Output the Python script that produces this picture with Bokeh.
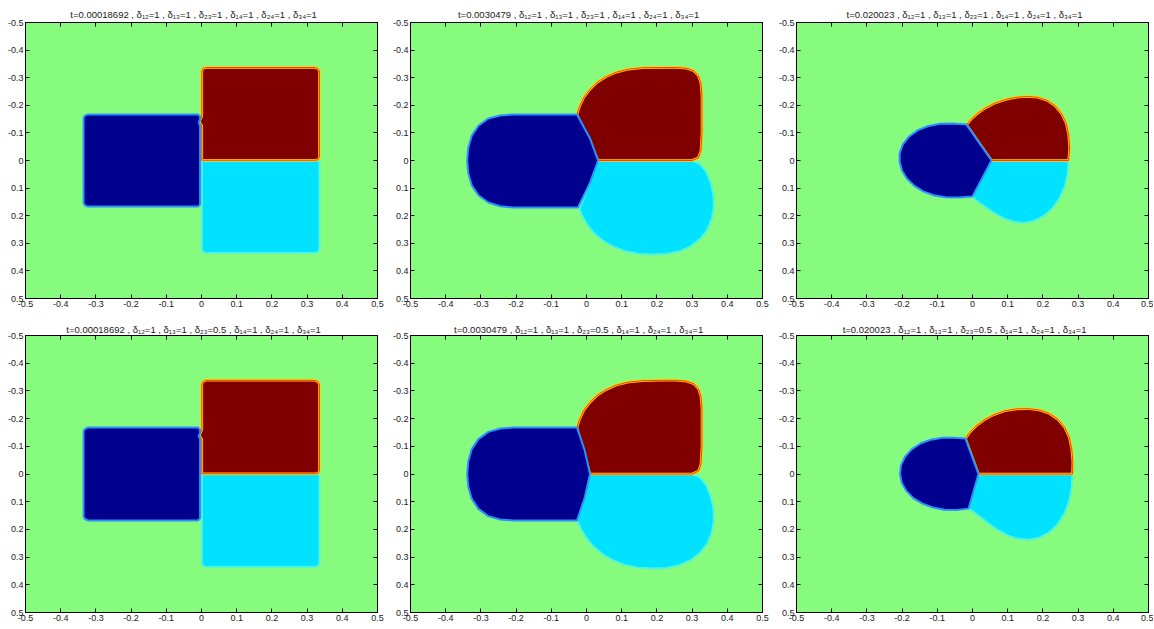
from bokeh.plotting import figure
from bokeh.models import Range1d, FixedTicker, LinearAxis
from bokeh.layouts import column, row
from bokeh.embed import file_html
from bokeh.resources import INLINE

# ---------------- data ----------------
TICKS = [-0.5, -0.4, -0.3, -0.2, -0.1, 0.0, 0.1, 0.2, 0.3, 0.4, 0.5]
TICK_LABELS = ["-0.5", "-0.4", "-0.3", "-0.2", "-0.1", "0", "0.1", "0.2", "0.3", "0.4", "0.5"]

TITLES = [
    "t=0.00018692 ,  δ₁₂=1 ,  δ₁₃=1 ,  δ₂₃=1 ,  δ₁₄=1 ,  δ₂₄=1 ,  δ₃₄=1",
    "t=0.0030479 ,  δ₁₂=1 ,  δ₁₃=1 ,  δ₂₃=1 ,  δ₁₄=1 ,  δ₂₄=1 ,  δ₃₄=1",
    "t=0.020023 ,  δ₁₂=1 ,  δ₁₃=1 ,  δ₂₃=1 ,  δ₁₄=1 ,  δ₂₄=1 ,  δ₃₄=1",
    "t=0.00018692 ,  δ₁₂=1 ,  δ₁₃=1 ,  δ₂₃=0.5 ,  δ₁₄=1 ,  δ₂₄=1 ,  δ₃₄=1",
    "t=0.0030479 ,  δ₁₂=1 ,  δ₁₃=1 ,  δ₂₃=0.5 ,  δ₁₄=1 ,  δ₂₄=1 ,  δ₃₄=1",
    "t=0.020023 ,  δ₁₂=1 ,  δ₁₃=1 ,  δ₂₃=0.5 ,  δ₁₄=1 ,  δ₂₄=1 ,  δ₃₄=1",
]

# Panel 1 (t=0.00018692, d23=1)
P1_BLUE_X = [-0.322, -0.010, -0.004, -0.004, -0.008, -0.004, -0.004, -0.010, -0.322, -0.331, -0.335, -0.335, -0.331]
P1_BLUE_Y = [-0.167, -0.167, -0.160, -0.148, -0.138, -0.125, 0.160, 0.167, 0.167, 0.163, 0.155, -0.155, -0.163]
P1_RED_X = [0.012, 0.323, 0.331, 0.335, 0.335, 0.331, 0.323, 0.001, 0.001, -0.006, 0.001, 0.001, 0.004]
P1_RED_Y = [-0.337, -0.337, -0.333, -0.325, -0.010, -0.003, -0.001, -0.001, -0.125, -0.140, -0.160, -0.325, -0.333]
P1_CYAN_X = [0.001, 0.335, 0.335, 0.331, 0.323, 0.012, 0.004, 0.001]
P1_CYAN_Y = [0.001, 0.001, 0.323, 0.331, 0.335, 0.335, 0.331, 0.323]

# Panel 2 (t=0.0030479, d23=1)
P2_BLUE_X = [-0.209, -0.027, 0.010, 0.033, 0.010, -0.024, -0.209, -0.245, -0.279, -0.307, -0.326, -0.336, -0.339,
             -0.336, -0.326, -0.307, -0.279, -0.245]
P2_BLUE_Y = [-0.167, -0.167, -0.080, 0.000, 0.080, 0.170, 0.170, 0.166, 0.152, 0.126, 0.090, 0.045, 0.000,
             -0.045, -0.090, -0.126, -0.152, -0.163]
P2_RED_X = [0.033, -0.027, -0.020, -0.008, 0.010, 0.030, 0.055, 0.085, 0.120, 0.160, 0.208, 0.255, 0.285, 0.305,
            0.318, 0.325, 0.328, 0.328, 0.325, 0.318, 0.300]
P2_RED_Y = [0.000, -0.167, -0.195, -0.228, -0.258, -0.283, -0.303, -0.320, -0.331, -0.336, -0.337, -0.337, -0.334,
            -0.325, -0.307, -0.280, -0.236, -0.100, -0.035, -0.010, 0.000]
P2_CYAN_X = [0.033, 0.300, 0.322, 0.340, 0.353, 0.361, 0.362, 0.356, 0.343, 0.322, 0.295, 0.262, 0.225, 0.185,
             0.145, 0.108, 0.075, 0.045, 0.020, 0.002, -0.012, -0.020, 0.010]
P2_CYAN_Y = [0.000, 0.000, 0.012, 0.040, 0.080, 0.125, 0.170, 0.212, 0.252, 0.285, 0.312, 0.330, 0.339, 0.341,
             0.338, 0.328, 0.311, 0.289, 0.262, 0.232, 0.202, 0.175, 0.080]

# Panel 3 (t=0.020023, d23=1)
P3_BLUE_X = [-0.017, 0.054, 0.000, -0.040, -0.077, -0.110, -0.140, -0.165, -0.186, -0.200, -0.207, -0.207, -0.198,
             -0.180, -0.155, -0.125, -0.092, -0.058]
P3_BLUE_Y = [-0.130, 0.000, 0.130, 0.134, 0.133, 0.126, 0.112, 0.092, 0.066, 0.037, 0.005, -0.027, -0.058,
             -0.087, -0.110, -0.125, -0.133, -0.134]
P3_RED_X = [0.054, -0.017, -0.005, 0.012, 0.035, 0.062, 0.094, 0.125, 0.155, 0.185, 0.212, 0.235, 0.253, 0.266,
            0.273, 0.276, 0.273]
P3_RED_Y = [0.000, -0.130, -0.148, -0.168, -0.189, -0.207, -0.221, -0.229, -0.232, -0.229, -0.218, -0.198, -0.170,
            -0.135, -0.095, -0.045, 0.000]
P3_CYAN_X = [0.054, 0.273, 0.271, 0.263, 0.248, 0.228, 0.203, 0.175, 0.148, 0.120, 0.093, 0.068, 0.045, 0.024,
             0.008, 0.000]
P3_CYAN_Y = [0.000, 0.000, 0.045, 0.092, 0.135, 0.172, 0.201, 0.219, 0.226, 0.223, 0.212, 0.195, 0.176, 0.157,
             0.142, 0.130]

# Panel 4 (t=0.00018692, d23=0.5)
P4_BLUE_X = [-0.322, -0.010, -0.004, -0.004, -0.008, -0.004, -0.004, -0.010, -0.322, -0.331, -0.335, -0.335, -0.331]
P4_BLUE_Y = [-0.168, -0.168, -0.160, -0.148, -0.138, -0.125, 0.160, 0.168, 0.168, 0.163, 0.155, -0.155, -0.163]
P4_RED_X = [0.012, 0.323, 0.331, 0.335, 0.335, 0.331, 0.323, 0.001, 0.001, -0.006, 0.001, 0.001, 0.004]
P4_RED_Y = [-0.338, -0.338, -0.333, -0.325, -0.010, -0.003, -0.001, -0.001, -0.125, -0.140, -0.160, -0.325, -0.333]
P4_CYAN_X = [0.001, 0.335, 0.335, 0.331, 0.323, 0.012, 0.004, 0.001]
P4_CYAN_Y = [0.001, 0.001, 0.323, 0.331, 0.336, 0.336, 0.331, 0.323]

# Panel 5 (t=0.0030479, d23=0.5)
P5_BLUE_X = [-0.209, -0.027, -0.005, 0.010, -0.005, -0.027, -0.209, -0.245, -0.279, -0.307, -0.326, -0.336, -0.339,
             -0.336, -0.326, -0.307, -0.279, -0.245]
P5_BLUE_Y = [-0.168, -0.168, -0.085, 0.000, 0.085, 0.168, 0.168, 0.164, 0.152, 0.126, 0.090, 0.045, 0.000,
             -0.045, -0.090, -0.126, -0.152, -0.164]
P5_RED_X = [0.010, -0.027, -0.020, -0.008, 0.010, 0.030, 0.055, 0.085, 0.120, 0.160, 0.208, 0.255, 0.285, 0.305,
            0.318, 0.325, 0.328, 0.328, 0.325, 0.318, 0.300]
P5_RED_Y = [0.000, -0.168, -0.196, -0.229, -0.259, -0.284, -0.304, -0.321, -0.332, -0.337, -0.338, -0.338, -0.335,
            -0.326, -0.308, -0.281, -0.236, -0.100, -0.035, -0.010, 0.000]
P5_CYAN_X = [0.010, 0.300, 0.322, 0.340, 0.353, 0.361, 0.362, 0.356, 0.343, 0.322, 0.295, 0.262, 0.225, 0.185,
             0.145, 0.108, 0.075, 0.045, 0.020, 0.000, -0.015, -0.027, -0.005]
P5_CYAN_Y = [0.000, 0.000, 0.012, 0.040, 0.080, 0.125, 0.170, 0.212, 0.252, 0.285, 0.312, 0.330, 0.339, 0.341,
             0.338, 0.328, 0.311, 0.289, 0.262, 0.232, 0.200, 0.168, 0.085]

# Panel 6 (t=0.020023, d23=0.5)
P6_BLUE_X = [-0.020, 0.017, -0.011, -0.045, -0.080, -0.112, -0.142, -0.168, -0.188, -0.201, -0.206, -0.203,
             -0.192, -0.173, -0.148, -0.118, -0.085, -0.052]
P6_BLUE_Y = [-0.128, 0.000, 0.125, 0.130, 0.129, 0.121, 0.107, 0.087, 0.061, 0.032, 0.000, -0.032, -0.062,
             -0.089, -0.110, -0.124, -0.131, -0.131]
P6_RED_X = [0.017, -0.020, -0.008, 0.010, 0.033, 0.060, 0.092, 0.125, 0.158, 0.190, 0.219, 0.243, 0.262, 0.275,
            0.282, 0.285, 0.284]
P6_RED_Y = [0.000, -0.128, -0.150, -0.173, -0.195, -0.214, -0.228, -0.235, -0.236, -0.231, -0.218, -0.197, -0.168,
            -0.132, -0.090, -0.045, 0.000]
P6_CYAN_X = [0.017, 0.284, 0.282, 0.275, 0.262, 0.243, 0.218, 0.190, 0.160, 0.130, 0.100, 0.072, 0.047, 0.025,
             0.006, -0.011]
P6_CYAN_Y = [0.000, 0.000, 0.048, 0.096, 0.141, 0.180, 0.211, 0.230, 0.237, 0.234, 0.222, 0.203, 0.180, 0.158,
             0.140, 0.125]

PANELS = [
    (P1_BLUE_X, P1_BLUE_Y, P1_RED_X, P1_RED_Y, P1_CYAN_X, P1_CYAN_Y),
    (P2_BLUE_X, P2_BLUE_Y, P2_RED_X, P2_RED_Y, P2_CYAN_X, P2_CYAN_Y),
    (P3_BLUE_X, P3_BLUE_Y, P3_RED_X, P3_RED_Y, P3_CYAN_X, P3_CYAN_Y),
    (P4_BLUE_X, P4_BLUE_Y, P4_RED_X, P4_RED_Y, P4_CYAN_X, P4_CYAN_Y),
    (P5_BLUE_X, P5_BLUE_Y, P5_RED_X, P5_RED_Y, P5_CYAN_X, P5_CYAN_Y),
    (P6_BLUE_X, P6_BLUE_Y, P6_RED_X, P6_RED_Y, P6_CYAN_X, P6_CYAN_Y),
]

# ---------------- style ----------------
BG = "#86FB7E"
BLUE, BLUE_EDGE = "#00008F", "#2A90FF"
RED, RED_EDGE, RED_EDGE2 = "#800000", "#FFD200", "#FF3A00"
CYAN, CYAN_EDGE = "#00E2FF", "#52F5D8"
FONT = "Liberation Sans"
LABELS = dict(zip(TICKS, TICK_LABELS))

COL_W = [389, 386, 378]
COL_L = [25, 21, 21]
COL_R = [12, 13, 5]
ROW_H = [316, 311]
ROW_T = [22, 19]
ROW_B = [18, 15]
ROW_TITLE_STANDOFF = [6, 2]


def style_axis(ax, show_labels=True):
    ax.ticker = FixedTicker(ticks=TICKS)
    ax.major_label_overrides = LABELS
    ax.major_tick_in = 4
    ax.major_tick_out = 0
    ax.minor_tick_in = 0
    ax.minor_tick_out = 0
    ax.axis_line_color = "black"
    ax.major_tick_line_color = "black"
    ax.major_label_text_font = FONT
    ax.major_label_text_color = "#1a1a1a"
    if show_labels:
        ax.major_label_text_font_size = "9px"
        ax.major_label_standoff = 2
    else:
        ax.major_label_text_font_size = "0px"
        ax.major_label_text_alpha = 0
        ax.major_label_standoff = 0


def make_panel(i):
    r, c = divmod(i, 3)
    p = figure(width=COL_W[c], height=ROW_H[r],
               x_range=Range1d(-0.5, 0.5), y_range=Range1d(0.5, -0.5),
               output_backend="svg", toolbar_location=None,
               min_border_left=COL_L[c], min_border_right=COL_R[c],
               min_border_top=ROW_T[r], min_border_bottom=ROW_B[r],
               background_fill_color=BG, border_fill_color="white",
               outline_line_color="black")
    p.grid.visible = False
    style_axis(p.xaxis[0])
    style_axis(p.yaxis[0])
    top = LinearAxis()
    right = LinearAxis()
    style_axis(top, False)
    style_axis(right, False)
    p.add_layout(top, "above")
    p.add_layout(right, "right")
    p.title.text = TITLES[i]
    p.title.align = "center"
    p.title.text_font = FONT
    p.title.text_font_size = "9.5px"
    p.title.text_font_style = "normal"
    p.title.text_color = "#1a1a1a"
    p.title.standoff = ROW_TITLE_STANDOFF[r]
    p.title.offset = 0

    bx, by, rx, ry, cx, cy = PANELS[i]
    p.patch(cx, cy, fill_color=CYAN, line_color=CYAN_EDGE, line_width=2)
    p.patch(rx, ry, fill_color=RED, line_color=RED_EDGE, line_width=2.5)
    p.patch(rx, ry, fill_alpha=0, line_color=RED_EDGE2, line_width=1)
    p.patch(bx, by, fill_color=BLUE, line_color=BLUE_EDGE, line_width=2)
    return p


figs = [make_panel(i) for i in range(6)]
layout = column(row(*figs[:3], spacing=0), row(*figs[3:], spacing=0), spacing=0)

open("out.html", "w").write(file_html(layout, INLINE))
